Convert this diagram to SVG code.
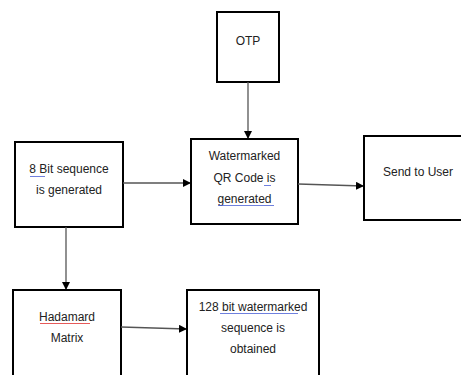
<svg xmlns="http://www.w3.org/2000/svg" width="461" height="375" viewBox="0 0 461 375">
<defs>
<style>
.box{fill:#fff;stroke:#000;stroke-width:2}
.t{font-family:"Liberation Sans",Arial,sans-serif;font-size:12px;fill:#222;text-anchor:middle}
.c{stroke:#555;stroke-width:1.3;fill:none}
.sq{fill:none;stroke-width:0.8}
</style>
<marker id="ah" markerWidth="8" markerHeight="8" refX="7" refY="4" orient="auto" markerUnits="userSpaceOnUse">
<path d="M0,0 L8,4 L0,8 Z" fill="#000"/>
</marker>
</defs>
<rect width="461" height="375" fill="#fff"/>
<g id="otp">
<rect class="box" x="217" y="12" width="62" height="70"/>
<text class="t" x="248" y="45">OTP</text>
</g>
<g id="watermarked">
<rect class="box" x="191" y="139" width="107" height="85"/>
<text class="t" x="244.5" y="160">Watermarked</text>
<text class="t" x="244.5" y="182">QR Code is</text>
<text class="t" x="244.5" y="203">generated</text>
<path class="sq" stroke="#4a5fd6" d="M264,185 l1,1 1,-1 1,1 1,-1 1,1 1,-1 1,1"/>
<path class="sq" stroke="#4a5fd6" d="M218,205 l1,1 1,-1 1,1 1,-1 1,1 1,-1 1,1 1,-1 1,1 1,-1 1,1 1,-1 1,1 1,-1 1,1 1,-1 1,1 1,-1 1,1 1,-1 1,1 1,-1 1,1 1,-1 1,1 1,-1 1,1 1,-1 1,1 1,-1 1,1 1,-1 1,1 1,-1 1,1 1,-1 1,1 1,-1 1,1 1,-1 1,1 1,-1 1,1 1,-1 1,1 1,-1 1,1 1,-1 1,1 1,-1 1,1 1,-1 1,1 1,-1 1,1 1,-1"/>
</g>
<g id="send">
<rect class="box" x="364" y="136" width="105" height="84"/>
<text class="t" x="418" y="176">Send to User</text>
</g>
<g id="bitseq">
<rect class="box" x="15" y="142" width="108" height="85"/>
<text class="t" x="69" y="173">8 Bit sequence</text>
<text class="t" x="69" y="194">is generated</text>
<path class="sq" stroke="#4a5fd6" d="M30,176 l1,1 1,-1 1,1 1,-1 1,1 1,-1 1,1 1,-1 1,1 1,-1 1,1 1,-1 1,1 1,-1 1,1"/>
</g>
<g id="hadamard">
<rect class="box" x="13" y="290" width="108" height="100"/>
<text class="t" x="67" y="321">Hadamard</text>
<text class="t" x="67" y="342">Matrix</text>
<path class="sq" stroke="#e03030" d="M40,323 l1,1 1,-1 1,1 1,-1 1,1 1,-1 1,1 1,-1 1,1 1,-1 1,1 1,-1 1,1 1,-1 1,1 1,-1 1,1 1,-1 1,1 1,-1 1,1 1,-1 1,1 1,-1 1,1 1,-1 1,1 1,-1 1,1 1,-1 1,1 1,-1 1,1 1,-1 1,1 1,-1 1,1 1,-1 1,1 1,-1 1,1 1,-1 1,1 1,-1 1,1 1,-1 1,1 1,-1 1,1 1,-1"/>
</g>
<g id="obtained">
<rect class="box" x="187" y="290" width="132" height="100"/>
<text class="t" x="253" y="311">128 bit watermarked</text>
<text class="t" x="253" y="332">sequence is</text>
<text class="t" x="253" y="353">obtained</text>
<path class="sq" stroke="#4a5fd6" d="M220,313 l1,1 1,-1 1,1 1,-1 1,1 1,-1 1,1 1,-1 1,1 1,-1 1,1 1,-1 1,1 1,-1 1,1 1,-1 1,1 1,-1 1,1 1,-1 1,1 1,-1 1,1 1,-1 1,1 1,-1 1,1 1,-1 1,1 1,-1 1,1 1,-1 1,1 1,-1 1,1 1,-1 1,1 1,-1 1,1 1,-1 1,1 1,-1 1,1 1,-1 1,1 1,-1 1,1 1,-1 1,1 1,-1 1,1 1,-1 1,1 1,-1 1,1 1,-1 1,1 1,-1 1,1 1,-1 1,1 1,-1 1,1 1,-1 1,1 1,-1 1,1 1,-1 1,1 1,-1 1,1 1,-1 1,1 1,-1 1,1 1,-1 1,1 1,-1"/>
</g>
<g id="connectors">
<line class="c" x1="248" y1="82" x2="248" y2="138" marker-end="url(#ah)"/>
<line class="c" x1="123" y1="183" x2="190" y2="183" marker-end="url(#ah)"/>
<line class="c" x1="298" y1="184" x2="363" y2="186" marker-end="url(#ah)"/>
<line class="c" x1="66" y1="227" x2="66" y2="289" marker-end="url(#ah)"/>
<line class="c" x1="121" y1="327" x2="186" y2="329" marker-end="url(#ah)"/>
</g>
</svg>
